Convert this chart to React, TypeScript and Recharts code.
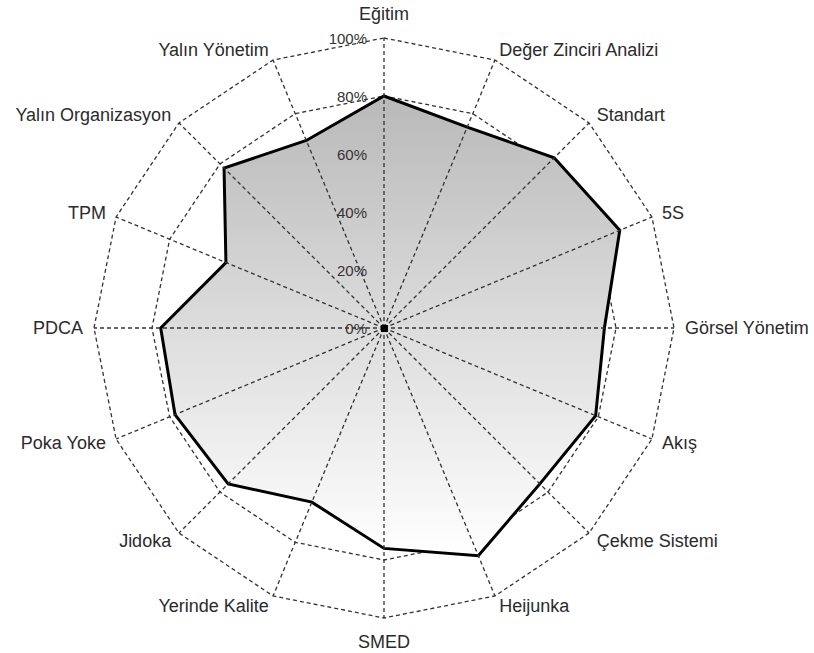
import React from 'react';
import { RadarChart, Radar, PolarGrid, PolarAngleAxis, PolarRadiusAxis } from 'recharts';

const categories = [
  'Eğitim', 'Değer Zinciri Analizi', 'Standart', '5S', 'Görsel Yönetim', 'Akış',
  'Çekme Sistemi', 'Heijunka', 'SMED', 'Yerinde Kalite', 'Jidoka', 'Poka Yoke',
  'PDCA', 'TPM', 'Yalın Organizasyon', 'Yalın Yönetim',
];
const values = [80, 75, 83, 88, 76, 79, 76, 85, 76, 65, 76, 78, 77, 59, 78, 70];
const radiusTicks = [0, 20, 40, 60, 80, 100];
const gridLevels = [80, 100];

const data = categories.map((name, i) => ({ name, value: values[i] }));

const W = 814;
const H = 653;
const CX = 384;
const CY = 328;
const R = 290;
const FONT = '"Liberation Sans", Arial, sans-serif';

const AngleTick = (props: any) => {
  const { x, y, payload } = props;
  const dx = x - CX;
  const dy = y - CY;
  const d = Math.sqrt(dx * dx + dy * dy) || 1;
  const ux = dx / d;
  const uy = dy / d;
  const vertical = Math.abs(ux) < 0.1;
  const off = vertical ? 24 : 11;
  const tx = CX + ux * (R + off);
  const ty = CY + uy * (R + off);
  const anchor = vertical ? 'middle' : ux > 0 ? 'start' : 'end';
  return (
    <g>
      <line
        x1={CX}
        y1={CY}
        x2={CX + ux * R}
        y2={CY + uy * R}
        stroke="#333"
        strokeWidth={1.3}
        strokeDasharray="4 3"
      />
      <text
        x={tx}
        y={ty}
        textAnchor={anchor}
        dominantBaseline="central"
        fontSize={18}
        fontFamily={FONT}
        fill="#2b2b2b"
      >
        {payload.value}
      </text>
    </g>
  );
};

const RadiusTick = (props: any) => {
  const { x, y, payload } = props;
  return (
    <g>
      {payload.value === 0 && <rect x={x - 3} y={y - 3} width={7} height={7} fill="#000" />}
      <text
        x={x - 17}
        y={y}
        textAnchor="end"
        dominantBaseline="central"
        fontSize={15}
        fontFamily={FONT}
        fill="#333"
      >
        {payload.value + '%'}
      </text>
    </g>
  );
};

export default function App() {
  return (
    <div style={{ position: 'absolute', left: 0, top: 0, width: W, height: H, background: '#fff' }}>
      <RadarChart width={W} height={H} data={data} cx={CX} cy={CY} outerRadius={R} startAngle={90} endAngle={-270}>
        <defs>
          <linearGradient id="fillGrad" x1="0" y1="0" x2="0" y2="1">
            <stop offset="0%" stopColor="#b9b9b9" />
            <stop offset="100%" stopColor="#ffffff" />
          </linearGradient>
        </defs>
        <PolarGrid
          gridType="polygon"
          radialLines={false}
          polarRadius={gridLevels.map((v) => (v / 100) * R)}
          stroke="#333"
          strokeWidth={1.3}
          strokeDasharray="4 3"
        />
        <Radar
          dataKey="value"
          stroke="#000"
          strokeWidth={3}
          fill="url(#fillGrad)"
          fillOpacity={1}
          dot={false}
          isAnimationActive={false}
        />
        <PolarAngleAxis dataKey="name" tick={<AngleTick />} axisLine={false} tickLine={false} />
        <PolarRadiusAxis
          angle={90}
          domain={[0, 100]}
          ticks={radiusTicks}
          tickCount={6}
          tick={<RadiusTick />}
          axisLine={false}
          tickLine={false}
        />
      </RadarChart>
    </div>
  );
}
